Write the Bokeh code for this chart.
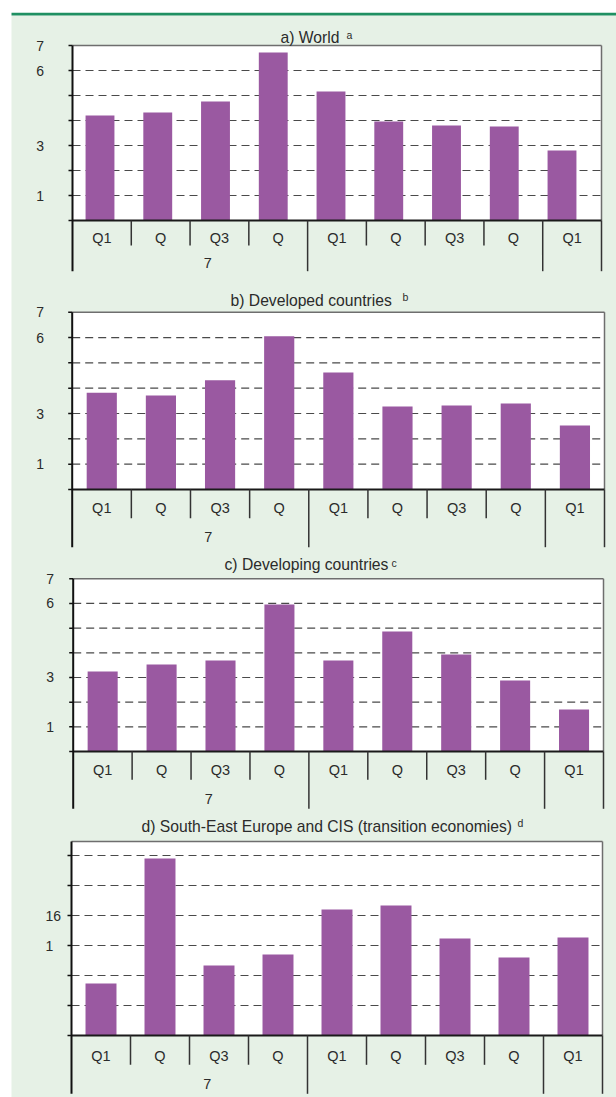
import numpy as np
from bokeh.plotting import figure
from bokeh.models import ColumnDataSource, Range1d
from bokeh.core.properties import value
from bokeh.embed import file_html
from bokeh.resources import INLINE

# ---- data -------------------------------------------------------------
quarters = ["Q1", "Q", "Q3", "Q", "Q1", "Q", "Q3", "Q", "Q1"]
year_labels = ["7", "", ""]
year_sizes = [4, 4, 1]

world = [4.2, 4.32, 4.76, 6.72, 5.16, 3.96, 3.8, 3.76, 2.8]
developed = [3.82, 3.71, 4.31, 6.05, 4.62, 3.28, 3.32, 3.4, 2.53]
developing = [3.24, 3.53, 3.69, 5.96, 3.69, 4.86, 3.93, 2.88, 1.70]
transition = [1.73, 5.9, 2.33, 2.7, 4.2, 4.33, 3.23, 2.6, 3.27]

ticks_main = {0: "", 1: "1", 2: "", 3: "3", 4: "", 5: "", 6: "6", 7: "7"}
ticks_transition = {0: "", 1: "", 2: "", 3: "1", 4: "16", 5: "", 6: ""}

titles = [
    ("a)  World", "a"),
    ("b) Developed countries", "b"),
    ("c) Developing countries", "c"),
    ("d) South-East Europe and CIS (transition economies)", "d"),
]

# ---- styling ----------------------------------------------------------
PANEL_BG = "#e6f1e6"
RULE = "#1f9062"
BAR = "#9a59a1"
TEXT = "#2b2b2b"
FONT = "Liberation Sans"
W, H = 616, 1097

# One canvas; the default ranges are page pixels (y grows downwards) and
# every panel gets its own category / value ranges for its marks.
p = figure(width=W, height=H, x_range=Range1d(0, W), y_range=Range1d(H, 0),
           x_axis_type=None, y_axis_type=None, toolbar_location=None,
           output_backend="svg", min_border=0, outline_line_color=None,
           background_fill_color="white", border_fill_color="white")
p.grid.grid_line_color = None

# light green page block with its green top rule
p.quad(left=11, right=W, top=15, bottom=H, fill_color=PANEL_BG, line_color=None)
p.quad(left=11, right=W, top=12.3, bottom=15, fill_color=RULE, line_color=None)


def txt(**kw):
    base = dict(text_color=TEXT, text_font=value(FONT), text_baseline="middle")
    base.update(kw)
    return p.text(**base)


def draw_panel(key, values, ticks, title, sup, g):
    n = len(values)
    cat_w = (g["right"] - g["left"]) / n
    unit = (g["zero"] - g["plot_top"]) / g["top"]
    xr, yr = "x" + key, "y" + key
    p.extra_x_ranges[xr] = Range1d(-g["left"] / cat_w, (W - g["left"]) / cat_w)
    p.extra_y_ranges[yr] = Range1d((g["zero"] - H) / unit, g["zero"] / unit)
    on = dict(x_range_name=xr, y_range_name=yr)
    top = g["top"]
    y_lab = -g["lab"] / unit
    y_year = -g["year"] / unit
    y_short = -g["short"] / unit
    y_long = -g["long"] / unit

    # white plotting area
    p.quad(left=0, right=n, bottom=0, top=top, fill_color="white", line_color=None, **on)

    # dashed gridlines
    grid_vals = [t for t in ticks if 0 < t < top]
    p.segment(x0=[0] * len(grid_vals), x1=[n] * len(grid_vals), y0=grid_vals, y1=grid_vals,
              line_color="#4a4a4a", line_width=1.2, line_dash="8 5", **on)

    # bars
    src = ColumnDataSource(dict(x=np.arange(n) + 0.5, top=values))
    if g.get("bar_first") is not None:
        # this panel's bars sit on a slightly tighter pitch than its categories
        br = "b" + key
        step = g["bar_step"]
        p.extra_x_ranges[br] = Range1d(0.5 - g["bar_first"] / step,
                                       0.5 + (W - g["bar_first"]) / step)
        p.vbar(x="x", top="top", width=g["bar_w"], bottom=0, source=src,
               fill_color=BAR, line_color=None, x_range_name=br, y_range_name=yr)
    else:
        p.vbar(x="x", top="top", width=g["bar_w"], bottom=0, source=src,
               fill_color=BAR, line_color=None, **on)

    # frame: grey top/right, black axes
    p.segment(x0=[0], x1=[n], y0=[top], y1=[top], line_color="#6e6e6e", line_width=1.5, **on)
    p.segment(x0=[n], x1=[n], y0=[0], y1=[top], line_color="#6e6e6e", line_width=1.5, **on)
    p.segment(x0=[0], x1=[n], y0=[0], y1=[0], line_color="#1a1a1a", line_width=2, **on)
    p.segment(x0=[0], x1=[0], y0=[y_long], y1=[top], line_color="#111111", line_width=2, **on)

    # value ticks and labels
    tv = sorted(ticks)
    p.segment(x0=[g["left"] - 4] * len(tv), x1=[g["left"]] * len(tv), y0=tv, y1=tv,
              line_color="#111111", line_width=1.5, y_range_name=yr)
    labelled = [t for t in tv if ticks[t]]
    txt(x=[g["ylab_x"]] * len(labelled), y=labelled, text=[ticks[t] for t in labelled],
        text_align=g["ylab_align"], text_font_size=value("14px"), y_range_name=yr)

    # category separators below the axis
    bounds = np.cumsum(year_sizes)
    short_x = [i for i in range(1, n) if i not in bounds]
    long_x = list(bounds)
    p.segment(x0=short_x, x1=short_x, y0=[0] * len(short_x), y1=[y_short] * len(short_x),
              line_color="#333333", line_width=1.5, **on)
    p.segment(x0=long_x, x1=long_x, y0=[0] * len(long_x), y1=[y_long] * len(long_x),
              line_color="#333333", line_width=1.5, **on)

    # quarter and year labels
    txt(x=np.arange(n) + 0.5, y=[y_lab] * n, text=quarters, text_align="center",
        text_font_size=value("14.5px"), **on)
    starts = np.concatenate([[0], bounds[:-1]])
    centers = starts + np.array(year_sizes) / 2.0 + 0.3
    txt(x=centers, y=[y_year] * len(centers), text=year_labels, text_align="center",
        text_font_size=value("14.5px"), **on)

    # title and its superscript note marker
    txt(x=[g["title"][0]], y=[g["title"][1]], text=[title], text_align="left",
        text_font_size=value("15.7px"))
    txt(x=[g["sup"][0]], y=[g["sup"][1]], text=[sup], text_align="left",
        text_font_size=value("10.5px"))


geoms = [
    dict(plot_top=45, zero=220, top=7, left=72, right=601,
         lab=17.7, year=42.5, short=25, long=50.7, title=(280, 36.5), sup=(346, 34.5),
         ylab_x=43.5, ylab_align="right", bar_w=0.5, bar_first=99.5, bar_step=57.75),
    dict(plot_top=311.7, zero=489, top=7, left=71.7, right=604,
         lab=18.7, year=47.7, short=28.7, long=57.7, title=(230, 299.5), sup=(402, 296.5),
         ylab_x=43.5, ylab_align="right", bar_w=0.51),
    dict(plot_top=578.3, zero=751, top=7, left=72.7, right=603,
         lab=18.3, year=47.3, short=28.3, long=57.3, title=(224, 563.5), sup=(391, 562.5),
         ylab_x=53.5, ylab_align="right", bar_w=0.51),
    dict(plot_top=841, zero=1035, top=194 / 30, left=71, right=602,
         lab=20, year=48.3, short=29.3, long=58.3, title=(141, 825.5), sup=(517, 822.5),
         ylab_x=45, ylab_align="left", bar_w=0.525),
]

series = [world, developed, developing, transition]
tick_sets = [ticks_main, ticks_main, ticks_main, ticks_transition]
for key, s, t, (ttl, sp), g in zip("abcd", series, tick_sets, titles, geoms):
    draw_panel(key, s, t, ttl, sp, g)

open("out.html", "w").write(file_html(p, INLINE))
